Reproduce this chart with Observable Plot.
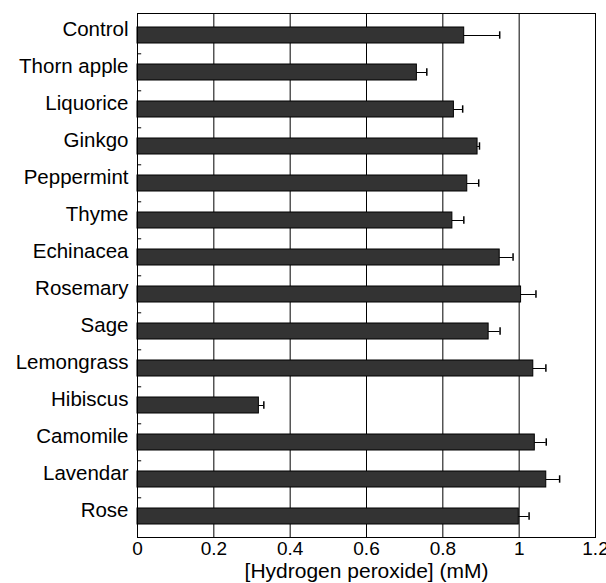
<!DOCTYPE html>
<html>
<head>
<meta charset="utf-8">
<script src="https://cdn.jsdelivr.net/npm/d3@7"></script>
<script src="https://cdn.jsdelivr.net/npm/@observablehq/plot@0.6"></script>
<style>
  html, body { margin: 0; padding: 0; background: #fff; }
</style>
</head>
<body>
<div id="chart"></div>
<script>
const categories = ["Control", "Thorn apple", "Liquorice", "Ginkgo", "Peppermint", "Thyme", "Echinacea", "Rosemary", "Sage", "Lemongrass", "Hibiscus", "Camomile", "Lavendar", "Rose"];
const values = [0.856, 0.732, 0.829, 0.891, 0.864, 0.825, 0.949, 1.005, 0.920, 1.037, 0.318, 1.041, 1.071, 0.999];
const errors = [0.093, 0.026, 0.023, 0.005, 0.030, 0.030, 0.035, 0.039, 0.030, 0.033, 0.013, 0.030, 0.035, 0.027];
const xTicks = [0, 0.2, 0.4, 0.6, 0.8, 1, 1.2];
const gridTicks = [0.2, 0.4, 0.6, 0.8, 1];
const xLabel = "[Hydrogen peroxide] (mM)";

const data = categories.map((name, i) => ({name, value: values[i], hi: values[i] + errors[i]}));
const boundaries = categories.slice(1);

const font = "'Liberation Sans', Arial, Helvetica, sans-serif";
const fs = "20.5px";

const chart = Plot.plot({
  width: 606,
  height: 583,
  marginLeft: 137,
  marginRight: 11,
  marginTop: 13,
  marginBottom: 46,
  style: {fontFamily: font, fontSize: fs, color: "#000", background: "#fff"},
  x: {domain: [0, 1.2]},
  y: {domain: categories, paddingInner: 0.58, paddingOuter: 0.29, align: 0.5},
  marks: [
    Plot.gridX(gridTicks, {stroke: "#000", strokeOpacity: 1, strokeWidth: 1}),
    Plot.barX(data, {y: "name", x: "value", fill: "#333", stroke: "#000", strokeWidth: 1}),
    Plot.ruleY(data, {y: "name", x1: "value", x2: "hi", stroke: "#000", strokeWidth: 1}),
    Plot.tickX(data, {y: "name", x: "hi", stroke: "#000", strokeWidth: 1.5, insetTop: 4.3, insetBottom: 4.3}),
    Plot.ruleY(boundaries, {y: d => d, x1: 0, x2: 0.011, dy: -18.7, stroke: "#000", strokeWidth: 1}),
    Plot.frame({stroke: "#000", strokeWidth: 1}),
    Plot.axisY({tickSize: 0, tickPadding: 9, dy: -6, fontSize: fs, label: null}),
    Plot.axisX({ticks: xTicks, tickSize: 0, tickPadding: 4, tickFormat: d => String(d), fontSize: "19px", label: null}),
    Plot.axisX({ticks: [], tickSize: 0, fontSize: "21px",
      label: xLabel, labelAnchor: "center", labelOffset: 40, labelArrow: "none"})
  ]
});
document.getElementById("chart").appendChild(chart);
</script>
</body>
</html>
